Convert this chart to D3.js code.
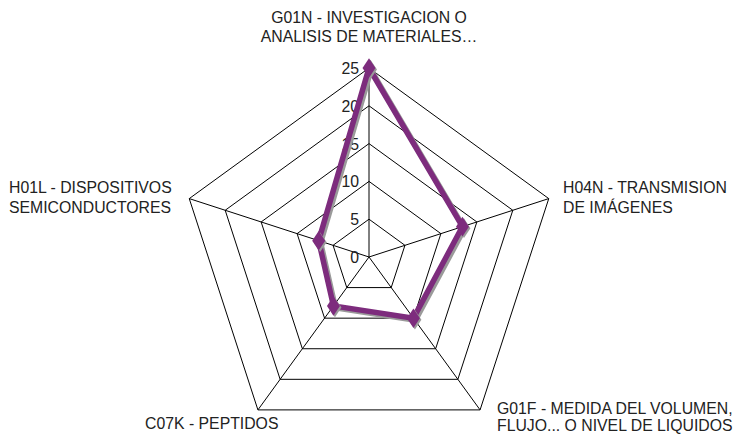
<!DOCTYPE html>
<html><head><meta charset="utf-8">
<script src="https://cdn.jsdelivr.net/npm/d3@7/dist/d3.min.js"></script>
<style>body{margin:0;background:#fff}svg{display:block}text{font-family:"Liberation Sans",Arial,sans-serif;fill:#222}</style>
</head><body><svg id="c" width="748" height="434"></svg>
<script>
const categories = ["G01N - INVESTIGACION O|ANALISIS DE MATERIALES…","H04N - TRANSMISION|DE IMÁGENES","G01F - MEDIDA DEL VOLUMEN,|FLUJO... O NIVEL DE LIQUIDOS","C07K - PEPTIDOS","H01L - DISPOSITIVOS|SEMICONDUCTORES"];
const values = [25, 13, 10, 8, 7];
const ticks = [0, 5, 10, 15, 20, 25];

const svg = d3.select("#c");
const cx = 369, cy = 257, R = 189;
const r = d3.scaleLinear().domain([0, 25]).range([0, R]);
const n = categories.length;
const ang = i => i * 2 * Math.PI / n;
const pt = (i, v) => [cx + r(v) * Math.sin(ang(i)), cy - r(v) * Math.cos(ang(i))];
const FS = 15.8;

const g = svg.append("g");
// rings
ticks.filter(t => t > 0).forEach(t => {
  g.append("path").attr("d", d3.line()(d3.range(n).map(i => pt(i, t))) + "Z")
    .attr("fill", "none").attr("stroke", "#000").attr("stroke-width", 1);
});
// spokes
d3.range(n).forEach(i => {
  const p = pt(i, 25);
  g.append("line").attr("x1", cx).attr("y1", cy).attr("x2", p[0]).attr("y2", p[1])
    .attr("stroke", "#000").attr("stroke-width", 1);
});
// tick labels
ticks.forEach(t => {
  g.append("text").attr("x", cx - 10).attr("y", cy - r(t) + 6).attr("text-anchor", "end")
    .attr("font-size", FS).text(t);
});
// data polygon with shadow
const poly = d3.line()(values.map((v, i) => pt(i, v))) + "Z";
g.append("path").attr("d", poly).attr("fill", "none").attr("stroke", "#9a9a9a")
  .attr("stroke-width", 5.5).attr("stroke-linejoin", "miter").attr("transform", "translate(2,2)");
const col = "#7d2c7d";
g.append("path").attr("d", poly).attr("fill", "none").attr("stroke", col)
  .attr("stroke-width", 5.5).attr("stroke-linejoin", "miter");
const sym = d3.symbol().type(d3.symbolDiamond).size(110);
values.forEach((v, i) => {
  const p = pt(i, v);
  g.append("path").attr("d", sym()).attr("transform", `translate(${p[0]+1.5},${p[1]+1.5}) scale(1.15,1)`).attr("fill", "#9a9a9a");
  g.append("path").attr("d", sym()).attr("transform", `translate(${p[0]},${p[1]}) scale(1.15,1)`).attr("fill", col);
});
// category labels
const lab = [
  {x: 369, y: 23, a: "middle", lh: 19},
  {x: 563, y: 193, a: "start", lh: 20},
  {x: 497, y: 414, a: "start", lh: 17},
  {x: 145, y: 429, a: "start", lh: 19},
  {x: 9, y: 193, a: "start", lh: 20}
];
categories.forEach((c, i) => {
  const t = g.append("text").attr("x", lab[i].x).attr("y", lab[i].y).attr("text-anchor", lab[i].a).attr("font-size", FS);
  c.split("|").forEach((s, k) => t.append("tspan").attr("x", lab[i].x).attr("dy", k ? lab[i].lh : 0).text(s));
});
</script></body></html>
